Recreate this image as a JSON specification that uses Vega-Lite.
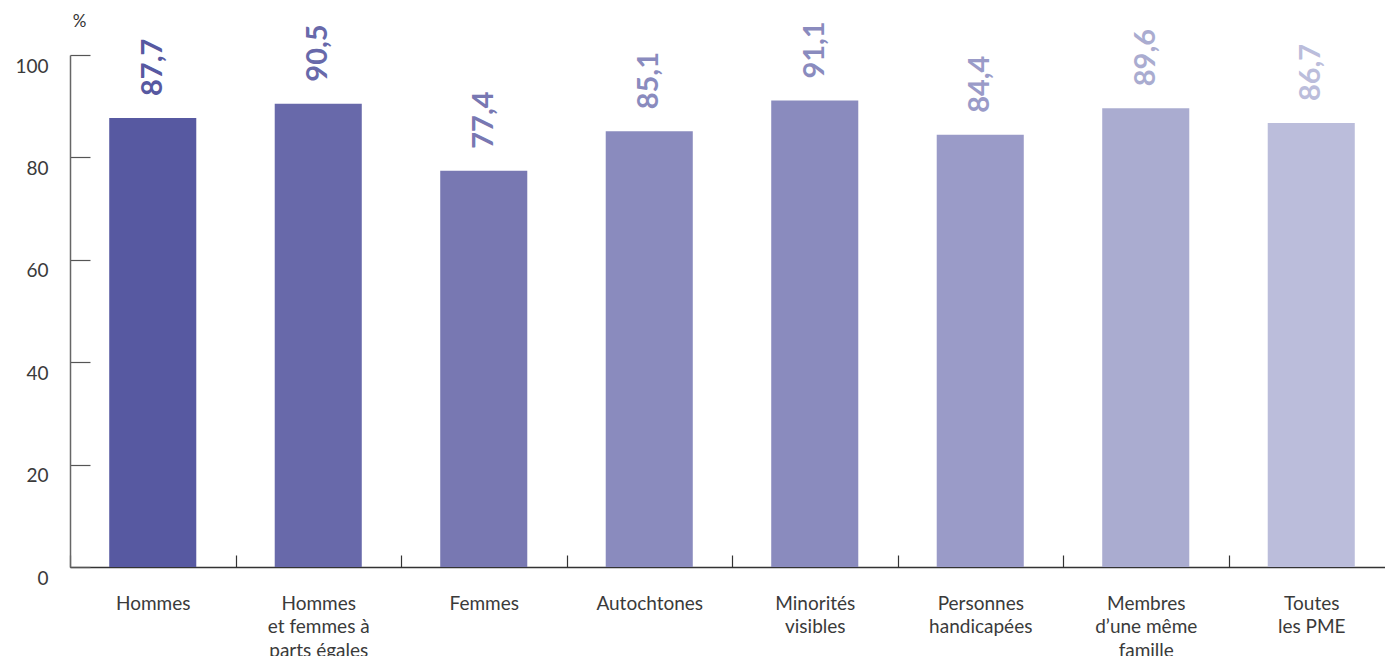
{
  "$schema": "https://vega.github.io/schema/vega-lite/v6.json",
  "autosize": {"type": "none"},
  "width": 1315,
  "height": 512,
  "padding": {"left": 70, "top": 55, "right": 0, "bottom": 89},
  "background": "white",
  "config": {
    "view": {"stroke": null},
    "font": "Lato",
    "axis": {"labelFont": "Lato", "titleFont": "Lato"}
  },
  "data": {
    "values": [
      {"cat": "Hommes", "value": 87.7, "txt": "87,7", "color": "#5759a1"},
      {"cat": "Hommes|et femmes à|parts égales", "value": 90.5, "txt": "90,5", "color": "#6869aa"},
      {"cat": "Femmes", "value": 77.4, "txt": "77,4", "color": "#7878b2"},
      {"cat": "Autochtones", "value": 85.1, "txt": "85,1", "color": "#8a8bbe"},
      {"cat": "Minorités|visibles", "value": 91.1, "txt": "91,1", "color": "#8a8bbe"},
      {"cat": "Personnes|handicapées", "value": 84.4, "txt": "84,4", "color": "#9a9bc8"},
      {"cat": "Membres|d’une même|famille", "value": 89.6, "txt": "89,6", "color": "#aaacd0"},
      {"cat": "Toutes|les PME", "value": 86.7, "txt": "86,7", "color": "#bbbddb"}
    ]
  },
  "encoding": {
    "x": {
      "field": "cat",
      "type": "nominal",
      "sort": null,
      "scale": {"range": [0, 1324], "paddingInner": 0, "paddingOuter": 0},
      "axis": {
        "title": null,
        "labelAngle": 0,
        "labelExpr": "split(datum.label, '|')",
        "labelLineHeight": 23.5,
        "labelFontSize": 19,
        "labelColor": "#3a3a3a",
        "labelPadding": 39,
        "labelBaseline": "top",
        "tickBand": "extent",
        "tickSize": -12,
        "tickColor": "#333333",
        "tickWidth": 1.2,
        "domainColor": "#333333",
        "domainWidth": 1.5,
        "labelOverlap": false,
        "labelBound": false
      }
    },
    "y": {
      "field": "value",
      "type": "quantitative",
      "scale": {"domain": [0, 100], "nice": false},
      "axis": {
        "title": "%",
        "titleAngle": 0,
        "titleX": 9,
        "titleY": -25,
        "titleAlign": "center",
        "titleFontSize": 17,
        "titleFontWeight": "normal",
        "titleColor": "#333333",
        "values": [0, 20, 40, 60, 80, 100],
        "labelFontSize": 19,
        "labelColor": "#3a3a3a",
        "labelBaseline": "top",
        "labelPadding": 42,
        "labelOffset": 2,
        "tickSize": -20,
        "tickColor": "#555555",
        "tickWidth": 1.2,
        "domainColor": "#666666",
        "domainWidth": 1.5,
        "grid": false
      }
    }
  },
  "layer": [
    {
      "mark": {"type": "bar", "width": {"band": 0.526}},
      "encoding": {
        "color": {"field": "color", "type": "nominal", "scale": null}
      }
    },
    {
      "mark": {"type": "text", "angle": 270, "align": "left", "baseline": "middle", "dx": 22, "fontSize": 29, "fontWeight": "bold"},
      "encoding": {
        "text": {"field": "txt"},
        "color": {"field": "color", "type": "nominal", "scale": null}
      }
    }
  ]
}
